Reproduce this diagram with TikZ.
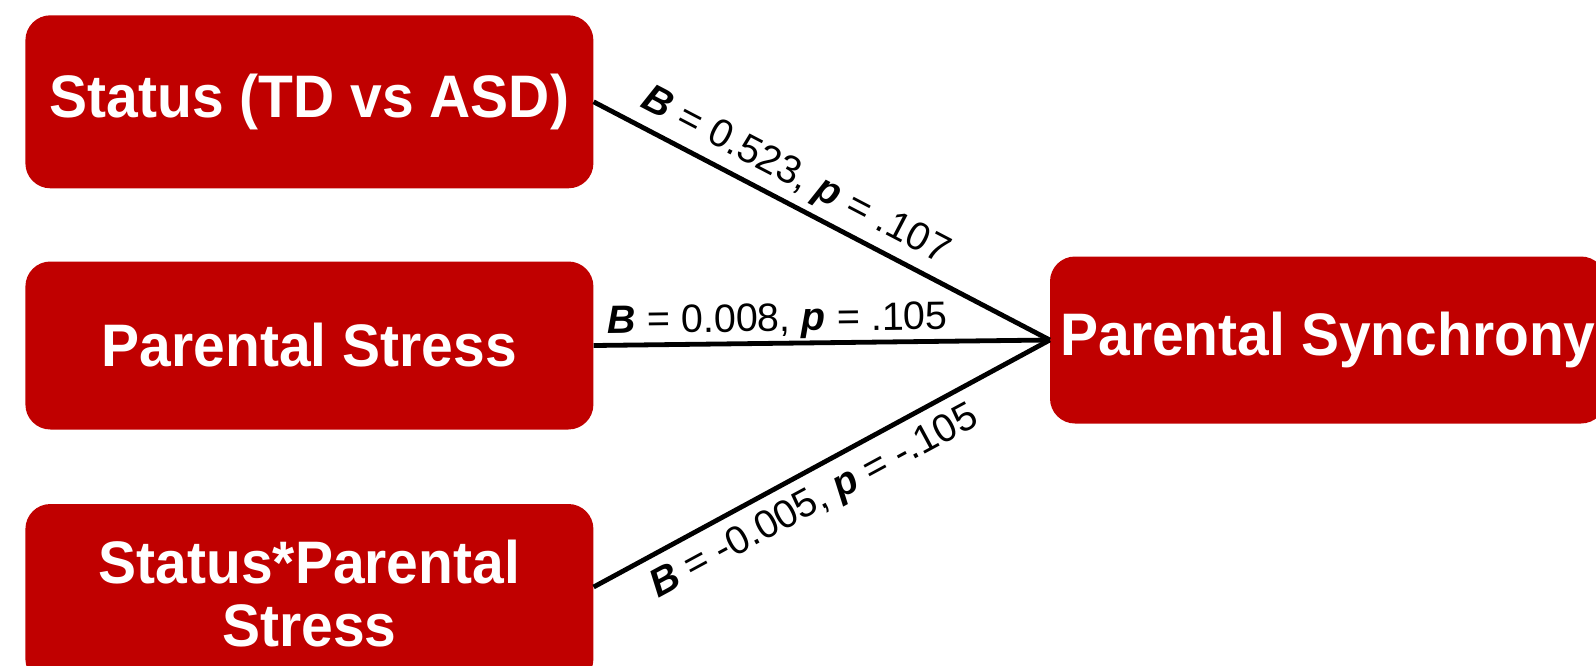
\documentclass[tikz,border=0pt]{standalone}
\usepackage{fontspec}
\setmainfont{Liberation Sans}
\newfontfamily\boxfont[FakeStretch=0.95]{Liberation Sans}
\definecolor{boxred}{RGB}{192,0,0}
\newcommand{\coef}[1]{\textbf{\textit{#1}}}
\begin{document}
\begin{tikzpicture}[x=1pt,y=-1pt,
  varbox/.style={fill=boxred, rounded corners=25pt, text=white,
    font=\boxfont\fontsize{60}{63}\selectfont\bfseries, align=center,
    inner sep=0pt, minimum width=568pt},
  conn/.style={line width=4.8pt, black},
  lab/.style={sloped, anchor=base, inner sep=0pt,
    font=\fontsize{39.5}{44}\selectfont}]
\useasboundingbox (0,0) rectangle (1596,665);
\clip (0,0) rectangle (1596,665);
% predictors (the lowest box runs past the bottom edge)
\node[varbox, minimum height=173pt] (b1) at (309.4,101.8) {Status (TD vs ASD)};
\node[varbox, minimum height=168pt] (b2) at (309.4,345.5) {Parental Stress};
\node[varbox, minimum height=180pt] (b3) at (309.4,594) {Status*Parental\\Stress};
% outcome (runs past the right edge)
\node[varbox, minimum height=167pt, minimum width=556pt] (b4) at (1328,340) {Parental Synchrony};
% paths with coefficients
\draw[conn] (b1.east) -- node[lab, pos=0.415, yshift=17pt] {\coef{B} = 0.523, \coef{p} = .107} (b4.west);
\draw[conn] (b2.east) -- node[lab, pos=0.404, yshift=12pt] {\coef{B} = 0.008, \coef{p} = .105} (b4.west);
\draw[conn] ([yshift=7pt]b3.east) -- node[lab, pos=0.452, yshift=-41pt] {\coef{B} = -0.005, \coef{p} = -.105} (b4.west);
\end{tikzpicture}
\end{document}
